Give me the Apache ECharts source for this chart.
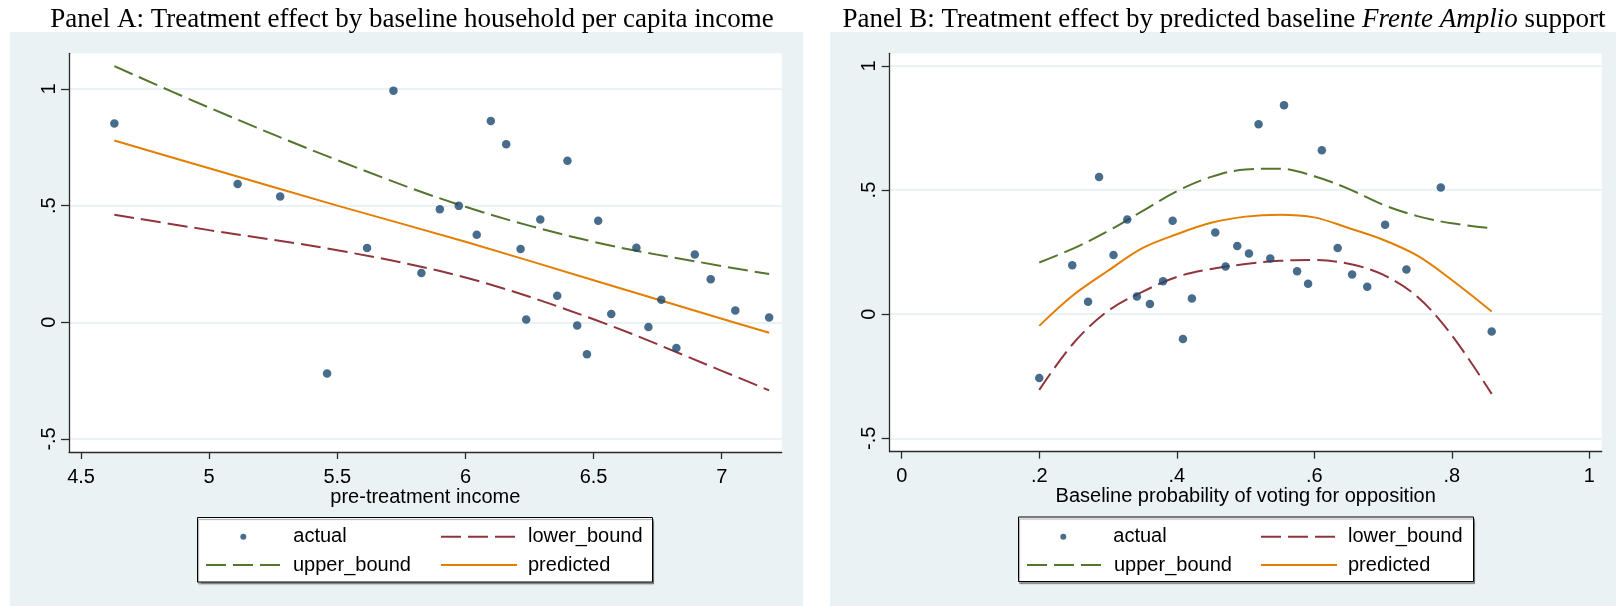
<!DOCTYPE html>
<html>
<head>
<meta charset="utf-8">
<script src="https://cdn.jsdelivr.net/npm/echarts@6.0.0/dist/echarts.min.js"></script>
<style>
  html, body { margin: 0; padding: 0; background: #ffffff; }
  #chart { width: 1616px; height: 606px; }
</style>
</head>
<body>
<div id="chart"></div>
<script>
// ---- Panel A: treatment effect by baseline household per capita income ----
const incomeX = [4.630, 5.111, 5.277, 5.460, 5.616, 5.719, 5.828, 5.900, 5.974, 6.044,
                 6.099, 6.159, 6.215, 6.237, 6.292, 6.358, 6.398, 6.436, 6.474, 6.518,
                 6.569, 6.667, 6.714, 6.764, 6.823, 6.895, 6.957, 7.053, 7.185];
const incomeActual = [0.852, 0.593, 0.539, -0.220, 0.318, 0.993, 0.211, 0.485, 0.499, 0.375,
                      0.863, 0.763, 0.314, 0.012, 0.441, 0.114, 0.692, -0.014, -0.137, 0.435,
                      0.036, 0.320, -0.020, 0.097, -0.110, 0.291, 0.184, 0.051, 0.021];
const incomeFitX = [4.63, 5.0, 5.5, 6.0, 6.5, 7.0, 7.185];
const incomeLower = [0.461, 0.395, 0.309, 0.192, 0.013, -0.208, -0.292];
const incomeUpper = [1.098, 0.920, 0.695, 0.495, 0.345, 0.241, 0.207];
const incomePredicted = [0.779, 0.660, 0.500, 0.345, 0.180, 0.015, -0.045];
const incomeXTicks = [4.5, 5, 5.5, 6, 6.5, 7];
const incomeXTickLabels = ['4.5', '5', '5.5', '6', '6.5', '7'];
const incomeYTicks = [-0.5, 0, 0.5, 1];
const incomeYTickLabels = ['-.5', '0', '.5', '1'];

// ---- Panel B: treatment effect by predicted baseline Frente Amplio support ----
const probX = [0.200, 0.248, 0.271, 0.287, 0.308, 0.328, 0.342, 0.361, 0.380, 0.394,
               0.409, 0.422, 0.456, 0.471, 0.488, 0.505, 0.519, 0.536, 0.556, 0.575,
               0.591, 0.611, 0.634, 0.655, 0.677, 0.703, 0.734, 0.784, 0.858];
const probActual = [-0.257, 0.197, 0.050, 0.553, 0.238, 0.381, 0.071, 0.041, 0.133, 0.376,
                    -0.100, 0.063, 0.329, 0.192, 0.275, 0.244, 0.765, 0.224, 0.842, 0.173,
                    0.123, 0.660, 0.267, 0.160, 0.111, 0.360, 0.180, 0.510, -0.070];
const probFitX = [0.2, 0.25, 0.3, 0.35, 0.4, 0.45, 0.5, 0.55, 0.6, 0.65, 0.7, 0.75, 0.8, 0.858];
const probLower = [-0.305, -0.116, 0.013, 0.090, 0.150, 0.182, 0.202, 0.215, 0.218, 0.203, 0.159, 0.070, -0.085, -0.321];
const probUpper = [0.208, 0.265, 0.335, 0.415, 0.495, 0.553, 0.583, 0.586, 0.556, 0.505, 0.441, 0.395, 0.366, 0.346];
const probPredicted = [-0.047, 0.078, 0.175, 0.266, 0.322, 0.368, 0.393, 0.401, 0.390, 0.347, 0.300, 0.236, 0.138, 0.011];
const probXTicks = [0, 0.2, 0.4, 0.6, 0.8, 1];
const probXTickLabels = ['0', '.2', '.4', '.6', '.8', '1'];
const probYTicks = [-0.5, 0, 0.5, 1];
const probYTickLabels = ['-.5', '0', '.5', '1'];

const seriesNames = ['actual', 'lower_bound', 'upper_bound', 'predicted'];

// ---- styling ----
const SANS = '"Liberation Sans", Arial, Helvetica, sans-serif';
const SERIF = '"Liberation Serif", "Times New Roman", Times, serif';
const BG = '#eaf2f3';
const GRID_LINE = '#eaf2f3';
const AXIS = '#2b2b2b';
const NAVY = '#1a476f';
const MAROON = '#90353b';
const GREEN = '#55752f';
const ORANGE = '#e37e00';
const DASH = [20, 7];

const zip = (xs, ys) => xs.map((x, i) => [x, ys[i]]);
const labelFor = (ticks, labels) => v => {
  let best = 0;
  ticks.forEach((t, i) => { if (Math.abs(t - v) < Math.abs(ticks[best] - v)) best = i; });
  return labels[best];
};

function xAxisFor(gridIndex, min, max, ticks, labels, name) {
  return {
    type: 'value', gridIndex, min, max, name,
    nameLocation: 'middle', nameGap: 35, nameMoveOverlap: false,
    nameTextStyle: { fontFamily: SANS, fontSize: 20, color: '#000', lineHeight: 20 },
    axisLine: { show: true, onZero: false, lineStyle: { color: AXIS, width: 1.3 } },
    axisTick: { show: true, length: 7, customValues: ticks, lineStyle: { color: AXIS, width: 1.3 } },
    axisLabel: { customValues: ticks, formatter: labelFor(ticks, labels), margin: 15,
                 fontFamily: SANS, fontSize: 20, color: '#000', lineHeight: 20 },
    splitLine: { show: false }
  };
}
function yAxisFor(gridIndex, min, max, ticks, labels) {
  return {
    type: 'value', gridIndex, min, max,
    axisLine: { show: true, onZero: false, lineStyle: { color: AXIS, width: 1.3 } },
    axisTick: { show: true, length: 8, customValues: ticks, lineStyle: { color: AXIS, width: 1.3 } },
    axisLabel: { customValues: ticks, formatter: labelFor(ticks, labels), rotate: 90, margin: 10,
                 fontFamily: SANS, fontSize: 20, color: '#000', lineHeight: 20 },
    splitLine: { show: true, lineStyle: { color: GRID_LINE, width: 2 } }
  };
}
function panelSeries(idx, px, py, fx, lower, upper, predicted) {
  const common = { xAxisIndex: idx, yAxisIndex: idx, symbol: 'none', smooth: 0.35, z: 3 };
  return [
    { name: 'actual', type: 'scatter', xAxisIndex: idx, yAxisIndex: idx, symbol: 'circle',
      symbolSize: 8.5, itemStyle: { color: NAVY }, data: zip(px, py), z: 4 },
    Object.assign({ name: 'lower_bound', type: 'line', data: zip(fx, lower),
      itemStyle: { color: MAROON }, lineStyle: { color: MAROON, width: 2, type: DASH } }, common),
    Object.assign({ name: 'upper_bound', type: 'line', data: zip(fx, upper),
      itemStyle: { color: GREEN }, lineStyle: { color: GREEN, width: 2, type: DASH } }, common),
    Object.assign({ name: 'predicted', type: 'line', data: zip(fx, predicted),
      itemStyle: { color: ORANGE }, lineStyle: { color: ORANGE, width: 2 } }, common)
  ];
}
// one legend component per key so the 2x2 key lines up in columns
function legendKeys(dotLeft, col1, col2, row1, row2) {
  const pos = [[dotLeft, row1], [col2, row1], [col1, row2], [col2, row2]];
  const textStyle = { fontFamily: SANS, fontSize: 20, color: '#000', lineHeight: 20 };
  return seriesNames.map((name, i) => {
    const isDot = name === 'actual';
    return {
      data: [name], left: pos[i][0], top: pos[i][1], padding: 0,
      itemWidth: isDot ? 6 : 76, itemHeight: 6, itemGap: 0, selectedMode: false,
      itemStyle: isDot ? {} : { color: 'rgba(0,0,0,0)', borderWidth: 0 },
      textStyle: Object.assign({ padding: [0, 0, 0, isDot ? 42 : 6] }, textStyle)
    };
  });
}
function legendFrame(x, y, w, h) {
  return { type: 'rect', z: 1, shape: { x, y, width: w, height: h },
    style: { fill: '#ffffff', stroke: '#000000', lineWidth: 1,
             shadowColor: 'rgba(0,0,0,0.35)', shadowOffsetX: 1, shadowOffsetY: 2, shadowBlur: 1 } };
}

const chart = echarts.init(document.getElementById('chart'), null, { renderer: 'canvas' });
chart.setOption({
  backgroundColor: BG,
  animation: false,
  title: [
    { text: 'Panel A: Treatment effect by baseline household per capita income',
      left: 412, top: 6, textAlign: 'center', padding: 0,
      textStyle: { fontFamily: SERIF, fontSize: 27, fontWeight: 'normal', color: '#000' } },
    { text: '{n|Panel B: Treatment effect by predicted baseline }{i|Frente Amplio}{n| support}',
      left: 1224, top: 6, textAlign: 'center', padding: 0,
      textStyle: { fontFamily: SERIF, fontSize: 27, fontWeight: 'normal', color: '#000',
        rich: {
          n: { fontFamily: SERIF, fontSize: 27, color: '#000' },
          i: { fontFamily: SERIF, fontSize: 27, fontStyle: 'italic', color: '#000' }
        } } }
  ],
  graphic: [
    { type: 'rect', z: 0, shape: { x: 0, y: 0, width: 1616, height: 32 }, style: { fill: '#ffffff' } },
    { type: 'rect', z: 0, shape: { x: 0, y: 0, width: 10, height: 606 }, style: { fill: '#ffffff' } },
    { type: 'rect', z: 0, shape: { x: 803, y: 0, width: 27, height: 606 }, style: { fill: '#ffffff' } },
    legendFrame(197.5, 517.5, 455, 64.5),
    legendFrame(1018.5, 517, 455, 64.5)
  ],
  grid: [
    { left: 69, top: 53.3, width: 712.7, height: 398.7, show: true, backgroundColor: '#ffffff', borderWidth: 0 },
    { left: 889.7, top: 53.3, width: 712, height: 398.4, show: true, backgroundColor: '#ffffff', borderWidth: 0 }
  ],
  xAxis: [
    xAxisFor(0, 4.453, 7.234, incomeXTicks, incomeXTickLabels, 'pre-treatment income'),
    xAxisFor(1, -0.0175, 1.018, probXTicks, probXTickLabels, 'Baseline probability of voting for opposition')
  ],
  yAxis: [
    yAxisFor(0, -0.556, 1.153, incomeYTicks, incomeYTickLabels),
    yAxisFor(1, -0.554, 1.051, probYTicks, probYTickLabels)
  ],
  legend: [].concat(
    legendKeys(240.3, 205, 440, 526.7, 555),
    legendKeys(1060.3, 1026, 1260, 526.7, 555)
  ),
  series: [].concat(
    panelSeries(0, incomeX, incomeActual, incomeFitX, incomeLower, incomeUpper, incomePredicted),
    panelSeries(1, probX, probActual, probFitX, probLower, probUpper, probPredicted)
  )
});
</script>
</body>
</html>
